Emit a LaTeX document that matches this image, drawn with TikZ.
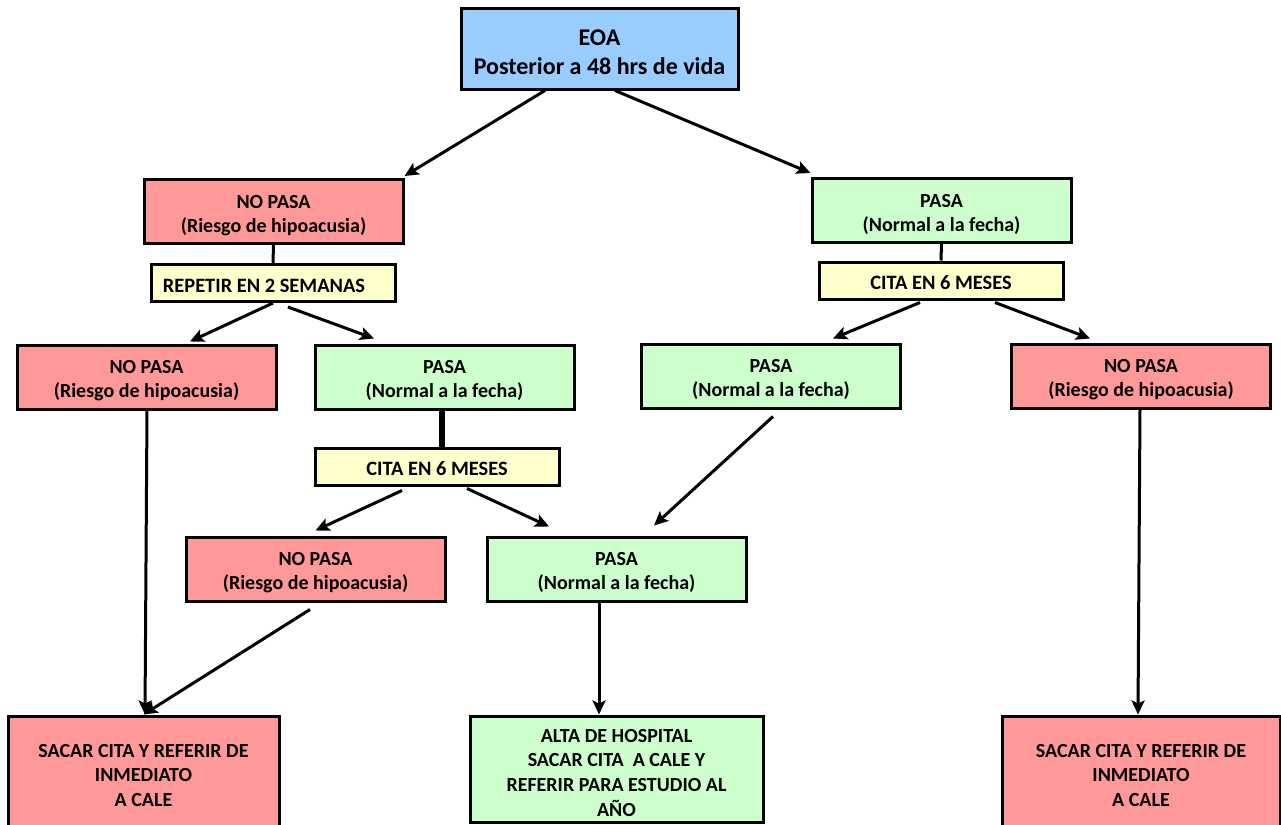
\documentclass[tikz,border=0pt]{standalone}
\usepackage{fontspec}
\setmainfont{Carlito}
\usetikzlibrary{arrows.meta}

\definecolor{eoablue}{HTML}{99CCFF}
\definecolor{nored}{HTML}{FF9999}
\definecolor{sigreen}{HTML}{CCFFCC}
\definecolor{citayellow}{HTML}{FFFFCC}

\tikzset{
  box/.style={draw, line width=1.5pt, align=center, inner sep=0pt,
    font=\fontsize{10}{12}\selectfont\bfseries,
    minimum width=129.5pt, minimum height=32pt},
  nobox/.style={box, fill=nored, text height=20.5pt, text depth=0pt},
  sibox/.style={box, fill=sigreen, text height=20.5pt, text depth=0pt},
  citabox/.style={box, fill=citayellow, font=\fontsize{10.2}{12}\selectfont\bfseries,
    text height=9pt, text depth=0pt, minimum width=122pt, minimum height=18.5pt},
  finbox/.style={box, font=\fontsize{10}{12.3}\selectfont\bfseries},
  arr/.style={line width=1.5pt, -{Stealth[length=7pt,width=6.5pt,inset=1.5pt]}},
  link/.style={line width=1.5pt}
}

\begin{document}
\begin{tikzpicture}[x=0.5pt, y=-0.5pt]
    \useasboundingbox (0,0) rectangle (1281,825);

    % draw nodes
    \node[box, fill=eoablue, minimum width=138.5pt, minimum height=40.5pt,
      text height=26pt, text depth=0pt,
      font=\fontsize{12}{14.5}\selectfont\bfseries] (eoa) at (599.5,48.5)
      {EOA\\Posterior a 48 hrs de vida};

    \node[nobox] (noA) at (273.5,211.5) {NO PASA\\(Riesgo de hipoacusia)};
    \node[sibox] (siA) at (941.5,210.5) {PASA\\(Normal a la fecha)};

    \node[citabox] (repetir) at (273,283) {REPETIR EN 2 SEMANAS\hspace*{9pt}};
    \node[citabox] (citaA) at (941,280.5) {CITA EN 6 MESES};

    \node[nobox] (noB) at (146.5,377) {NO PASA\\(Riesgo de hipoacusia)};
    \node[sibox] (siB) at (444.5,377) {PASA\\(Normal a la fecha)};
    \node[sibox] (siC) at (771,376) {PASA\\(Normal a la fecha)};
    \node[nobox] (noC) at (1141,376) {NO PASA\\(Riesgo de hipoacusia)};

    \node[citabox] (citaB) at (437,466.5) {CITA EN 6 MESES};

    \node[nobox] (noD) at (315.5,569) {NO PASA\\(Riesgo de hipoacusia)};
    \node[sibox] (siD) at (616.5,569) {PASA\\(Normal a la fecha)};

    \node[finbox, fill=nored, minimum width=135.5pt, minimum height=59.5pt] (finA)
      at (143.5,775.5) {SACAR CITA Y REFERIR DE\\INMEDIATO\\A CALE};
    \node[finbox, fill=sigreen, minimum width=146.5pt, minimum height=53pt,
      text height=47pt, text depth=0pt] (finB)
      at (616.5,769) {ALTA DE HOSPITAL\\SACAR CITA~~A CALE Y\\REFERIR PARA ESTUDIO AL\\AÑO};
    \node[finbox, fill=nored, minimum width=139pt, minimum height=59.5pt] (finC)
      at (1141,775.5) {SACAR CITA Y REFERIR DE\\INMEDIATO\\A CALE};

    % draw connectors
    \draw[arr] ([xshift=-27.25pt]eoa.south) -- ([yshift=1pt]noA.north east);
    \draw[arr] ([xshift=7.75pt]eoa.south) -- ([yshift=2pt]siA.north west);

    \draw[link] (noA.south) -- (repetir.north);
    \draw[arr] (repetir.south) -- ([xshift=21.75pt,yshift=1pt]noB.north);
    \draw[arr] ([xshift=7.5pt,yshift=-2pt]repetir.south) -- ([xshift=-35.25pt,yshift=2.5pt]siB.north);

    \draw[link] (siA.south) -- (citaA.north);
    \draw[arr] ([xshift=-10.5pt,yshift=-1pt]citaA.south) -- ([xshift=31pt,yshift=2pt]siC.north);
    \draw[arr] ([xshift=27pt,yshift=-1pt]citaA.south) -- ([xshift=-25.5pt,yshift=2pt]noC.north);

    \draw[line width=3pt] ([xshift=-1.25pt]siB.south) -- ([xshift=2.5pt]citaB.north);
    \draw[arr] ([xshift=-17.5pt,yshift=-2pt]citaB.south) -- ([yshift=2.5pt]noD.north);
    \draw[arr] ([xshift=15pt,yshift=-1pt]citaB.south) -- ([xshift=-33.75pt,yshift=4.5pt]siD.north);
    \draw[arr] ([xshift=1pt,yshift=-3.5pt]siC.south) -- ([xshift=18.75pt,yshift=5pt]siD.north);

    \draw[arr] ([xshift=0.25pt]noB.south) -- ([xshift=0.75pt]finA.north);
    \draw[arr] ([xshift=-2.75pt,yshift=-3.5pt]noD.south) -- (finA.north);
    \draw[arr] ([xshift=-8.75pt]siD.south) -- ([xshift=-8.75pt]finB.north);
    \draw[arr] ([xshift=-0.5pt]noC.south) -- ([xshift=-1.5pt]finC.north);
  \end{tikzpicture}
\end{document}
